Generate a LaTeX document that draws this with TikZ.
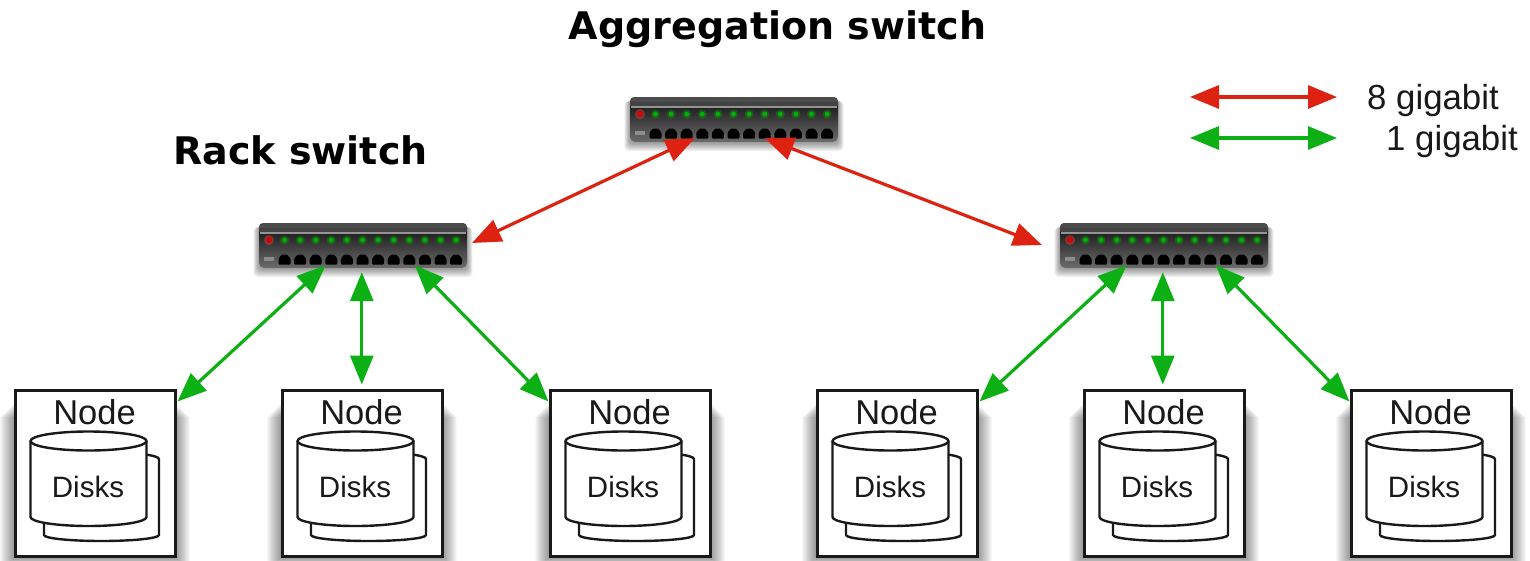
\documentclass[tikz,border=0pt]{standalone}
\usepackage{fontspec}
\setmainfont{Liberation Sans}
\newfontfamily\titlefont{DejaVu Sans}
\usetikzlibrary{arrows.meta,calc}
\definecolor{linkred}{HTML}{DD2211}
\definecolor{linkgreen}{HTML}{0DB014}
\tikzset{
  link/.style={line width=3.2pt,{Triangle[length=29pt,width=23pt]}-{Triangle[length=29pt,width=23pt]}},
  redlink/.style={link,draw=linkred,{Triangle[length=29pt,width=23pt,fill=linkred]}-{Triangle[length=29pt,width=23pt,fill=linkred]}},
  greenlink/.style={link,draw=linkgreen},
  title/.style={font=\titlefont\bfseries\fontsize{38}{38}\selectfont,text=black,inner sep=0pt},
  legend/.style={font=\fontsize{34.8}{35}\selectfont,text=black!90,inner sep=0pt},
  nodebox/.style={draw=black!90,line width=3pt,fill=white,minimum width=160pt,minimum height=166pt,inner sep=0pt},
  nodelabel/.style={font=\fontsize{34.5}{35}\selectfont,text=black!90,inner sep=0pt},
  disklabel/.style={font=\fontsize{29.5}{30}\selectfont,text=black!90,inner sep=0pt},
  diskline/.style={draw=black!90,line width=2.4pt,line join=round},
  switchbody/.style={rounded corners=5pt,top color=black!95,bottom color=black!58,minimum width=208pt,minimum height=45pt,inner sep=0pt},
}
\newcommand{\switchunit}[3]{%
  \begin{scope}[shift={(#2,#3)}]
    \foreach \i in {1,...,8}{\fill[black,opacity=.05,rounded corners=4pt] (-\i*.7,2+\i*.3) rectangle (208+\i*.7,46+\i*1.0);}
    \node[switchbody] (#1) at (104,22.5) {};
    \fill[black!70,rounded corners=4pt] (0,0) rectangle (208,9);
    \fill[black!74] (0,5) rectangle (208,9);
    \fill[black!42] (1,8.5) rectangle (207,10.5);
    \fill[black!45] (5,34) rectangle (15,38);
    \fill[red!70,opacity=.35] (10,17) circle (5);
    \fill[red!85!black] (10,17) circle (3);
    \foreach \k in {0,...,11}{
      \pgfmathsetmacro{\px}{25.5+\k*15.6}
      \fill[green!75!black,opacity=.3] (\px,17) circle (4.5);
      \fill[green!70!black] (\px,17) circle (2.4);
      \fill[black,rounded corners=1pt] (\px-6,41.5) -- (\px-6,35.5) -- (\px-2.5,31.5) -- (\px+2.5,31.5) -- (\px+6,35.5) -- (\px+6,41.5) -- cycle;
    }
  \end{scope}}
\newcommand{\hostunit}[2]{%
  \begin{scope}[shift={(#2,390)}]
    \foreach \i in {1,...,15}{\fill[black,opacity=.032] (-\i,12+\i) rectangle (160+\i,166+\i);}
    \node[nodebox] (#1) at (80,83) {};
    \node[nodelabel] (#1-name) at (79.5,22) {Node};
    % back cylinder
    \draw[diskline,fill=white] (29,69) -- (29,145) arc[start angle=180,end angle=0,x radius=57.5,y radius=6] -- (144,69)
       arc[start angle=0,end angle=-180,x radius=57.5,y radius=7] -- cycle;
    % front cylinder
    \fill[white] (15.5,51) rectangle (131.5,127);
    \fill[white] (73.5,127) ellipse[x radius=58,y radius=9];
    \draw[diskline] (15.5,51) -- (15.5,127) arc[start angle=180,end angle=0,x radius=58,y radius=9] -- (131.5,51);
    \draw[diskline,fill=white] (73.5,51) ellipse[x radius=58,y radius=9.5];
    \node[disklabel] (#1-disks) at (73,97) {Disks};
  \end{scope}}
\begin{document}
\begin{tikzpicture}[x=1pt,y=-1pt]
\useasboundingbox (0,0) rectangle (1530,560);
\fill[white] (0,0) rectangle (1530,560);
\node[title,anchor=center] (t1) at (777.5,29.5) {Aggregation switch};
\node[title,anchor=center] (t2) at (300.5,150) {Rack switch};
\switchunit{agg}{630}{97}
\switchunit{rackA}{259}{223}
\switchunit{rackB}{1060}{223}
\hostunit{n1}{15}
\hostunit{n2}{282}
\hostunit{n3}{550}
\hostunit{n4}{817}
\hostunit{n5}{1084}
\hostunit{n6}{1351}
% legend
\coordinate (lr1) at (1190,97);
\coordinate (lr2) at (1337,97);
\coordinate (lg1) at (1190,138);
\coordinate (lg2) at (1337,138);
\draw[redlink] (lr1) -- (lr2);
\draw[greenlink] (lg1) -- (lg2);
\node[legend,anchor=west] (l8) at (1367,100) {8 gigabit};
\node[legend,anchor=west] (l1) at (1386,141) {1 gigabit};
% connector ends
\coordinate (aggL) at ($(agg.south west)+(65,-4)$);
\coordinate (aggR) at ($(agg.south west)+(135,-4)$);
\coordinate (rackAin) at (472,243);
\coordinate (rackBin) at (1042,245);
\draw[redlink] (aggL) -- (rackAin);
\draw[redlink] (aggR) -- (rackBin);
\foreach \sw/\a/\b/\c in {rackA/n1/n2/n3,rackB/n4/n5/n6}{
  \coordinate (\sw-l) at ($(\sw.south west)+(67,-3)$);
  \coordinate (\sw-m) at ($(\sw.south west)+(103,4)$);
  \coordinate (\sw-r) at ($(\sw.south west)+(156,-3)$);
  \coordinate (\a-in) at ($(\a.north east)+(1,13)$);
  \coordinate (\b-in) at ($(\sw-m |- \b.north)+(0,-4)$);
  \coordinate (\c-in) at ($(\c.north west)+(0,13)$);
  \draw[greenlink] (\sw-l) -- (\a-in);
  \draw[greenlink] (\sw-m) -- (\b-in);
  \draw[greenlink] (\sw-r) -- (\c-in);
}
\end{tikzpicture}
\end{document}
